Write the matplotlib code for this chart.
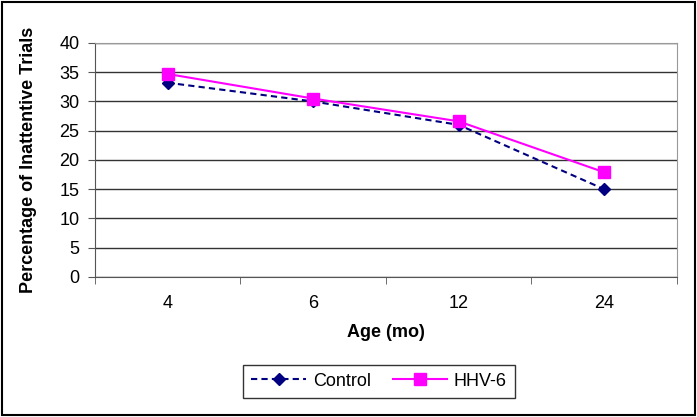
import numpy as np
import matplotlib.pyplot as plt

plt.rcParams['font.family'] = ['Liberation Sans', 'DejaVu Sans']

ages = ["4", "6", "12", "24"]
control = [33.2, 30.0, 26.0, 15.0]
hhv6 = [34.7, 30.5, 26.6, 17.9]

fig = plt.figure(figsize=(6.97, 4.17), dpi=100)
ax = fig.add_axes([0.136, 0.336, 0.835, 0.561])

x = np.arange(len(ages))
ax.plot(x, control, color="#000080", linestyle=(0, (3, 2)), linewidth=1.5,
        marker="D", markersize=6, label="Control", zorder=3)
ax.plot(x, hhv6, color="#ff00ff", linestyle="-", linewidth=1.5,
        marker="s", markersize=9, label="HHV-6", zorder=4)

ax.set_xlim(-0.5, len(ages) - 0.5)
ax.set_ylim(0, 40)
ax.set_yticks(np.arange(0, 41, 5))
ax.set_xticks(x)
ax.set_xticklabels(ages)
ax.set_xticks(np.arange(-0.5, len(ages)), minor=True)
ax.tick_params(axis="x", which="major", length=0, pad=13, labelsize=13)
ax.tick_params(axis="x", which="minor", length=5, direction="out", color="#555555")
ax.tick_params(axis="y", length=5, direction="out", labelsize=13, color="#555555", pad=6)

ax.yaxis.grid(True, color="#333333", linewidth=1.0)
ax.set_axisbelow(True)
for side in ["top", "right"]:
    ax.spines[side].set_color("#999999")
for side in ["left", "bottom"]:
    ax.spines[side].set_color("#555555")

ax.set_xlabel("Age (mo)", fontweight="bold", fontsize=13, labelpad=9)
ax.set_ylabel("Percentage of Inattentive Trials", fontweight="bold", fontsize=13, labelpad=16)

fig.legend(loc="center", bbox_to_anchor=(0.544, 0.086), ncol=2, fontsize=13,
           frameon=True, fancybox=False, edgecolor="black", handlelength=3.0,
           columnspacing=1.2, borderpad=0.45, handletextpad=0.4)

fig.patches.append(plt.Rectangle((0.003, 0.005), 0.994, 0.99, transform=fig.transFigure,
                                 fill=False, edgecolor="black", linewidth=1.5))

fig.savefig("out.png", dpi=100)
